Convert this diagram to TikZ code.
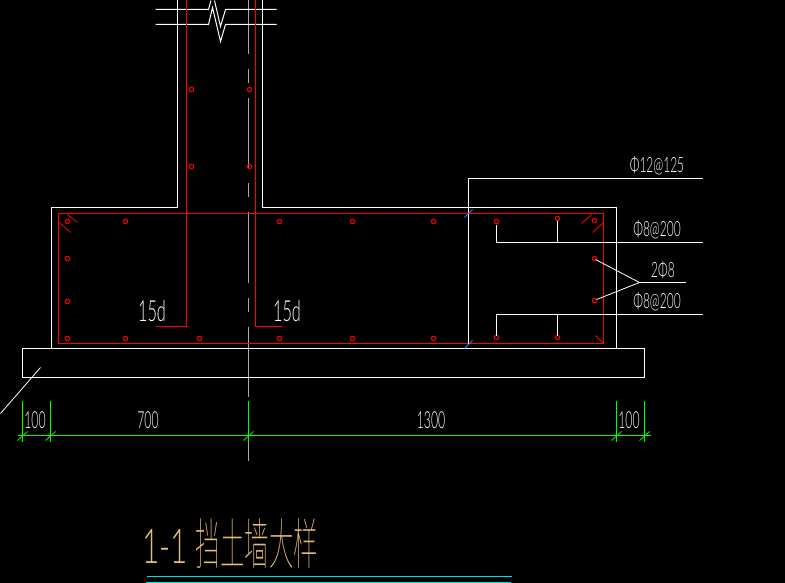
\documentclass[tikz,border=0pt]{standalone}
\usepackage{fontspec}
\setmainfont{Lato Light}
\newfontfamily\cjkthin{Noto Sans CJK SC Thin}
\definecolor{cadred}{RGB}{255,0,0}
\definecolor{cadgreen}{RGB}{0,255,0}
\definecolor{cadblue}{RGB}{30,130,255}
\definecolor{cadgray}{RGB}{170,170,170}
\definecolor{cadtan}{RGB}{230,190,110}
\definecolor{cadcyan}{RGB}{0,220,230}
\tikzset{
  wht/.style={draw=white,line width=1pt},
  thinw/.style={draw=white,line width=0.8pt},
  redl/.style={draw=cadred,line width=1pt},
  bar/.style={draw=cadred,line width=1pt,fill=none},
  grn/.style={draw=cadgreen,line width=1pt},
  blu/.style={draw=cadblue,line width=0.8pt},
  ctr/.style={draw=cadgray,line width=1pt},
  big/.style={text=white,inner sep=0pt,font=\fontsize{29}{29}\selectfont,xscale=.56},
  lab/.style={text=white,inner sep=0pt,font=\fontsize{23.5}{24}\selectfont,xscale=.52},
  sml/.style={text=white,inner sep=0pt,font=\fontsize{21}{21}\selectfont,xscale=.57},
  ttl/.style={text=cadtan,inner sep=0pt,font=\fontsize{48}{48}\selectfont,xscale=.62},
  ttlc/.style={text=cadtan,inner sep=0pt,font=\cjkthin\fontsize{50}{50}\selectfont,xscale=.49,yscale=1.1},
}
\begin{document}
\begin{tikzpicture}[x=1pt,y=-1pt]
\fill[black] (0,0) rectangle (785,583);
\useasboundingbox (0,0) rectangle (785,583);
\begin{scope}[xshift=.5pt,yshift=-.5pt]
% centre line
\draw[ctr,dash pattern=on 70 off 15 on 14 off 15] (248,-16) -- (248,460);
% break lines
\draw[wht] (155,24) -- (208,24) -- (212,7) -- (220,41) -- (225,24) -- (276,24);
\draw[wht] (155,9) -- (208,9) -- (210.5,0);
\draw[wht] (214,0) -- (220,26) -- (225,9) -- (276,9);
% concrete outline
\draw[wht] (177,0) -- (177,207) -- (51,207) -- (51,348);
\draw[wht] (262,0) -- (262,207) -- (616,207) -- (616,348);
\draw[wht] (22,348) rectangle (644,377);
% red reinforcement
\draw[redl] (58,213) rectangle (603,343);
\draw[redl] (186,0) -- (186,326) -- (155,326);
\draw[redl] (255,0) -- (255,326) -- (282,326);
\foreach \a/\b/\c/\d in {67/214/77/222, 59/222/70/232, 581/223/591/214, 592/232/603/222, 595/335/603/343}
  \draw[draw=cadred,line width=.8pt] (\a,\b) -- (\c,\d);
% bars
\foreach \p/\q in {67/221,125/221,279/221,352/221,433/221,496/221,557/218,594/220,
  67/258,67/301,594/258,594/300,
  67/338,125/338,199/338,279/338,352/338,433/338,496/337,557/337,
  191/89,249/89,191/166,249/166}
  \draw[bar] (\p,\q) circle (2.2pt);
% leaders
\draw[wht] (702,178) -- (468,178) -- (468,344);
\draw[blu] (464,217) -- (472,209);
\draw[blu] (464,348) -- (472,340);
\draw[wht] (496,224) -- (496,242) -- (702,242);
\draw[wht] (557,220) -- (557,242);
\draw[wht] (496,335) -- (496,314) -- (702,314);
\draw[wht] (557,335) -- (557,314);
\draw[thinw] (595,259) -- (639,282) -- (596,299);
\draw[wht] (639,282) -- (685,282);
\draw[thinw] (40,367) -- (0,413);
% dimension line
\draw[grn] (17,435) -- (650,435);
\foreach \x in {22,50,248,616,644}{
  \draw[grn] (\x,400) -- (\x,441);
  \draw[draw=cadgreen,line width=.8pt] (\x-5,440) -- (\x+5,431);
}
\end{scope}
% labels
\node[big] at (152,311) {15d};
\node[big] at (287,311) {15d};
\node[lab] at (35,420) {100};
\node[lab] at (148,420) {700};
\node[lab] at (431,420) {1300};
\node[lab] at (629,420) {100};
\node[sml] at (657,166) {Φ12@125};
\node[sml] at (657,230) {Φ8@200};
\node[sml] at (663,270) {2Φ8};
\node[sml] at (657,302) {Φ8@200};
\node[ttl] at (165,546) {1-1};
\node[ttlc] at (257,544) {挡土墙大样};
% underline
\draw[draw=cadcyan,line width=1pt] (147,576.5) -- (512,576.5);
\draw[draw=cadcyan,line width=1pt] (146,582) -- (511,582);
\end{tikzpicture}
\end{document}
